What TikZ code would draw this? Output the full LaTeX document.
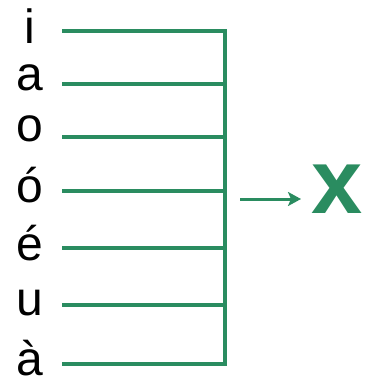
\documentclass[tikz,border=0pt]{standalone}
\usepackage{fontspec}
\setmainfont{Liberation Sans}
\usetikzlibrary{arrows.meta}
\definecolor{lgreen}{RGB}{42,140,96}
\begin{document}
\begin{tikzpicture}[x=1pt,y=-1pt,
  letter/.style={anchor=base,inner sep=0pt,font=\fontsize{48}{48}\selectfont,text=black},
  bar/.style={draw=lgreen,line width=4.5pt},
  arr/.style={draw=lgreen,line width=3pt,-{Stealth[length=13pt,width=14pt,inset=3pt]}}]
\useasboundingbox (0,0) rectangle (365,379);
% letters
\node[letter] (li) at (29.5,44) {i};
\node[letter] (la) at (29.5,91) {a};
\node[letter] (lo) at (29.5,142) {o};
\node[letter] (loa) at (29.5,202) {ó};
\node[letter] (lea) at (29.5,260) {é};
\node[letter] (lu) at (29.5,315) {u};
\node[letter] (lag) at (29.5,375) {à};
% line starts
\coordinate (si) at (62,31);
\coordinate (sa) at (62,84);
\coordinate (so) at (62,137);
\coordinate (soa) at (62,191);
\coordinate (sea) at (62,248);
\coordinate (su) at (62,305);
\coordinate (sag) at (62,364);
% bus
\coordinate (bi) at (225,31);
\coordinate (ba) at (225,84);
\coordinate (bo) at (225,137);
\coordinate (boa) at (225,191);
\coordinate (bea) at (225,248);
\coordinate (bu) at (225,305);
\coordinate (bag) at (225,364);
\draw[bar] (si) -- (bi);
\draw[bar] (sa) -- (ba);
\draw[bar] (so) -- (bo);
\draw[bar] (soa) -- (boa);
\draw[bar] (sea) -- (bea);
\draw[bar] (su) -- (bu);
\draw[bar] (sag) -- (bag);
\draw[bar,line cap=rect] (bi) -- (bag);
% output
\node[anchor=base,inner sep=0pt,text=lgreen,font=\fontsize{92}{92}\selectfont\bfseries] (x) at (337,213) {x};
\coordinate (as) at (240,199);
\coordinate (ae) at (301,199);
\draw[arr] (as) -- (ae);
\end{tikzpicture}
\end{document}
